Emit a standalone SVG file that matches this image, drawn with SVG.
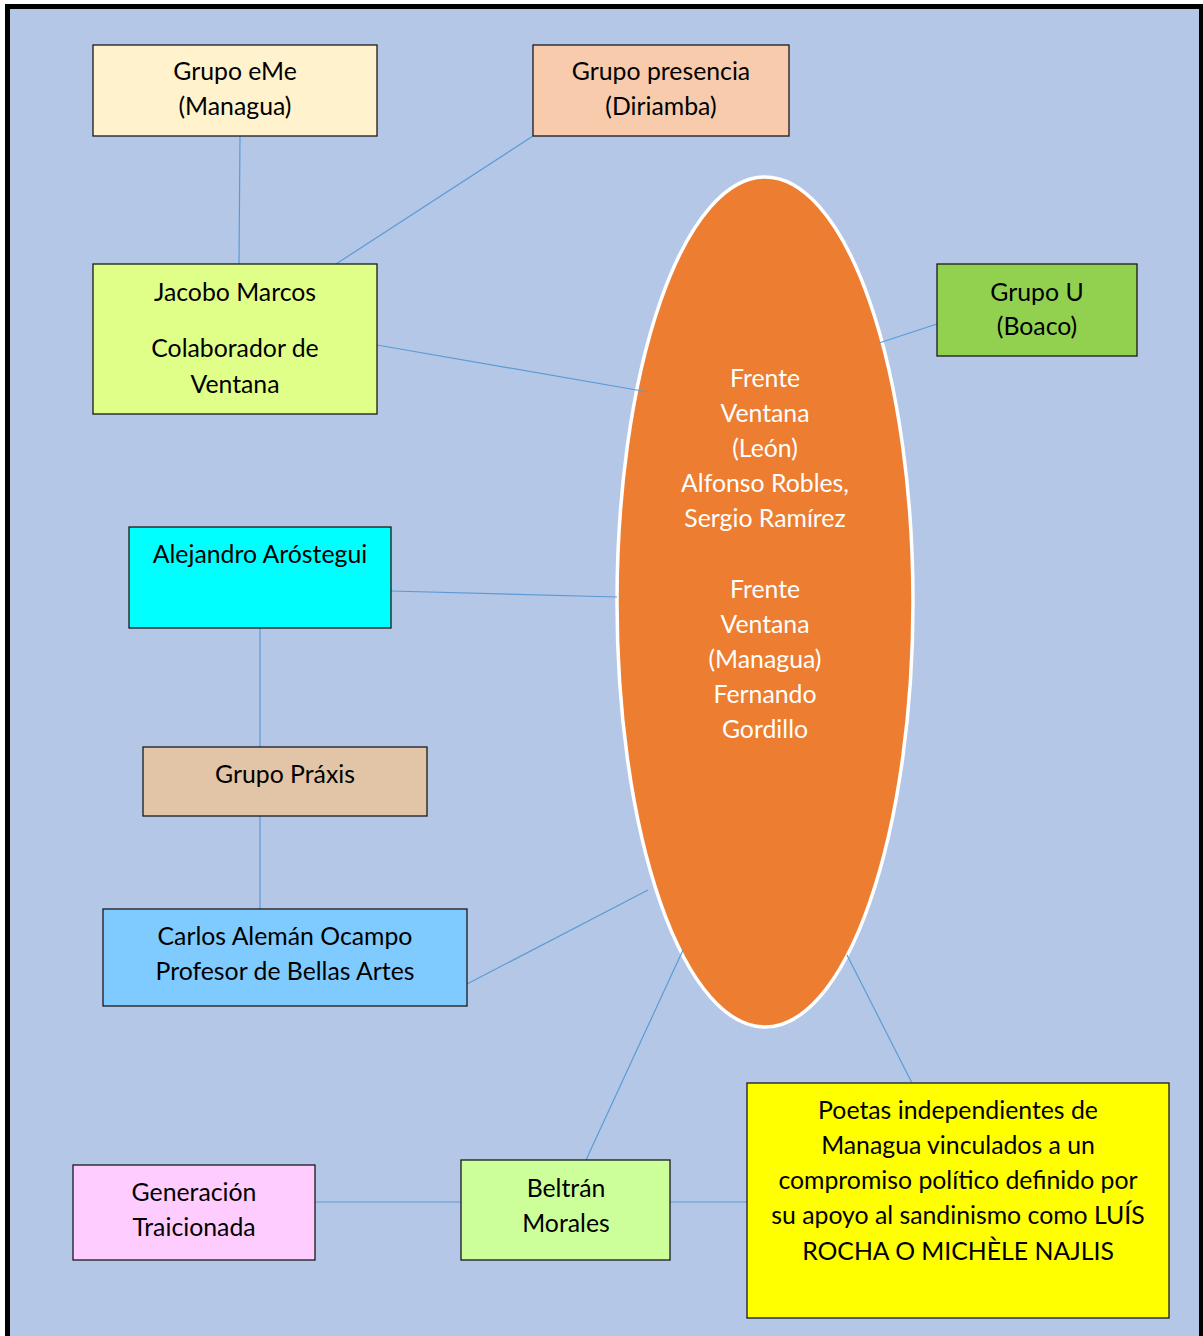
<svg xmlns="http://www.w3.org/2000/svg" width="1203" height="1336" viewBox="0 0 1203 1336">
<style>
.box{stroke:#1a1a1a;stroke-width:1.3}
.t{font-family:Lato,"Open Sans","Liberation Sans",sans-serif;font-size:24.8px;fill:#000;text-anchor:middle}
.w{fill:#fff}
.c{stroke:#5B9BD5;stroke-width:1.2;fill:none}
</style>
<rect x="0" y="0" width="1203" height="1336" fill="#fff"/>
<rect x="8" y="7" width="1193" height="1340" fill="#B4C7E7"/>
<path d="M7.5 1336 V6.5 H1201.5 V1336" fill="none" stroke="#000" stroke-width="5"/>
<g id="ellipse-frente">
<ellipse cx="765" cy="602" rx="148" ry="425" fill="#ED7D31" stroke="#fff" stroke-width="3.5"/>
<text class="t w" x="765"><tspan x="765" y="387">Frente</tspan><tspan x="765" y="422">Ventana</tspan><tspan x="765" y="457">(León)</tspan><tspan x="765" y="492">Alfonso Robles,</tspan><tspan x="765" y="527">Sergio Ramírez</tspan><tspan x="765" y="598">Frente</tspan><tspan x="765" y="633">Ventana</tspan><tspan x="765" y="668">(Managua)</tspan><tspan x="765" y="703">Fernando</tspan><tspan x="765" y="738">Gordillo</tspan></text>
</g>
<g id="connectors">
<line class="c" x1="240" y1="136" x2="239" y2="264"/>
<line class="c" x1="533" y1="136" x2="336" y2="264"/>
<line class="c" x1="377" y1="345" x2="648" y2="392"/>
<line class="c" x1="937" y1="324" x2="879" y2="343"/>
<line class="c" x1="391" y1="591" x2="617" y2="597"/>
<line class="c" x1="260" y1="628" x2="260" y2="747"/>
<line class="c" x1="260" y1="816" x2="260" y2="909"/>
<line class="c" x1="467" y1="984" x2="648" y2="890"/>
<line class="c" x1="586" y1="1160" x2="683" y2="950"/>
<line class="c" x1="912" y1="1083" x2="847" y2="955"/>
<line class="c" x1="315" y1="1202" x2="461" y2="1202"/>
<line class="c" x1="670" y1="1202" x2="747" y2="1202"/>
</g>
<g id="grupo-eme">
<rect class="box" x="93" y="45" width="284" height="91" fill="#FFF2CC"/>
<text class="t"><tspan x="235" y="80">Grupo eMe</tspan><tspan x="235" y="115">(Managua)</tspan></text>
</g>
<g id="grupo-presencia">
<rect class="box" x="533" y="45" width="256" height="91" fill="#F8CBAD"/>
<text class="t"><tspan x="661" y="80">Grupo presencia</tspan><tspan x="661" y="115">(Diriamba)</tspan></text>
</g>
<g id="jacobo-marcos">
<rect class="box" x="93" y="264" width="284" height="150" fill="#E0FF88"/>
<text class="t"><tspan x="235" y="301">Jacobo Marcos</tspan><tspan x="235" y="357">Colaborador de</tspan><tspan x="235" y="393">Ventana</tspan></text>
</g>
<g id="grupo-u">
<rect class="box" x="937" y="264" width="200" height="92" fill="#92D050"/>
<text class="t"><tspan x="1037" y="301">Grupo U</tspan><tspan x="1037" y="335">(Boaco)</tspan></text>
</g>
<g id="alejandro-arostegui">
<rect class="box" x="129" y="527" width="262" height="101" fill="#00FFFF"/>
<text class="t" x="260" y="563">Alejandro Aróstegui</text>
</g>
<g id="grupo-praxis">
<rect class="box" x="143" y="747" width="284" height="69" fill="#E2C5A6"/>
<text class="t" x="285" y="783">Grupo Práxis</text>
</g>
<g id="carlos-aleman">
<rect class="box" x="103" y="909" width="364" height="97" fill="#7FCBFF"/>
<text class="t"><tspan x="285" y="945">Carlos Alemán Ocampo</tspan><tspan x="285" y="980">Profesor de Bellas Artes</tspan></text>
</g>
<g id="generacion-traicionada">
<rect class="box" x="73" y="1165" width="242" height="95" fill="#FFCCFF"/>
<text class="t"><tspan x="194" y="1201">Generación</tspan><tspan x="194" y="1236">Traicionada</tspan></text>
</g>
<g id="beltran-morales">
<rect class="box" x="461" y="1160" width="209" height="100" fill="#CCFF99"/>
<text class="t"><tspan x="566" y="1197">Beltrán</tspan><tspan x="566" y="1232">Morales</tspan></text>
</g>
<g id="poetas-independientes">
<rect class="box" x="747" y="1083" width="422" height="235" fill="#FFFF00"/>
<text class="t"><tspan x="958" y="1119">Poetas independientes de</tspan><tspan x="958" y="1154">Managua vinculados a un</tspan><tspan x="958" y="1189">compromiso político definido por</tspan><tspan x="958" y="1224">su apoyo al sandinismo como LUÍS</tspan><tspan x="958" y="1260">ROCHA O MICHÈLE NAJLIS</tspan></text>
</g>
</svg>
